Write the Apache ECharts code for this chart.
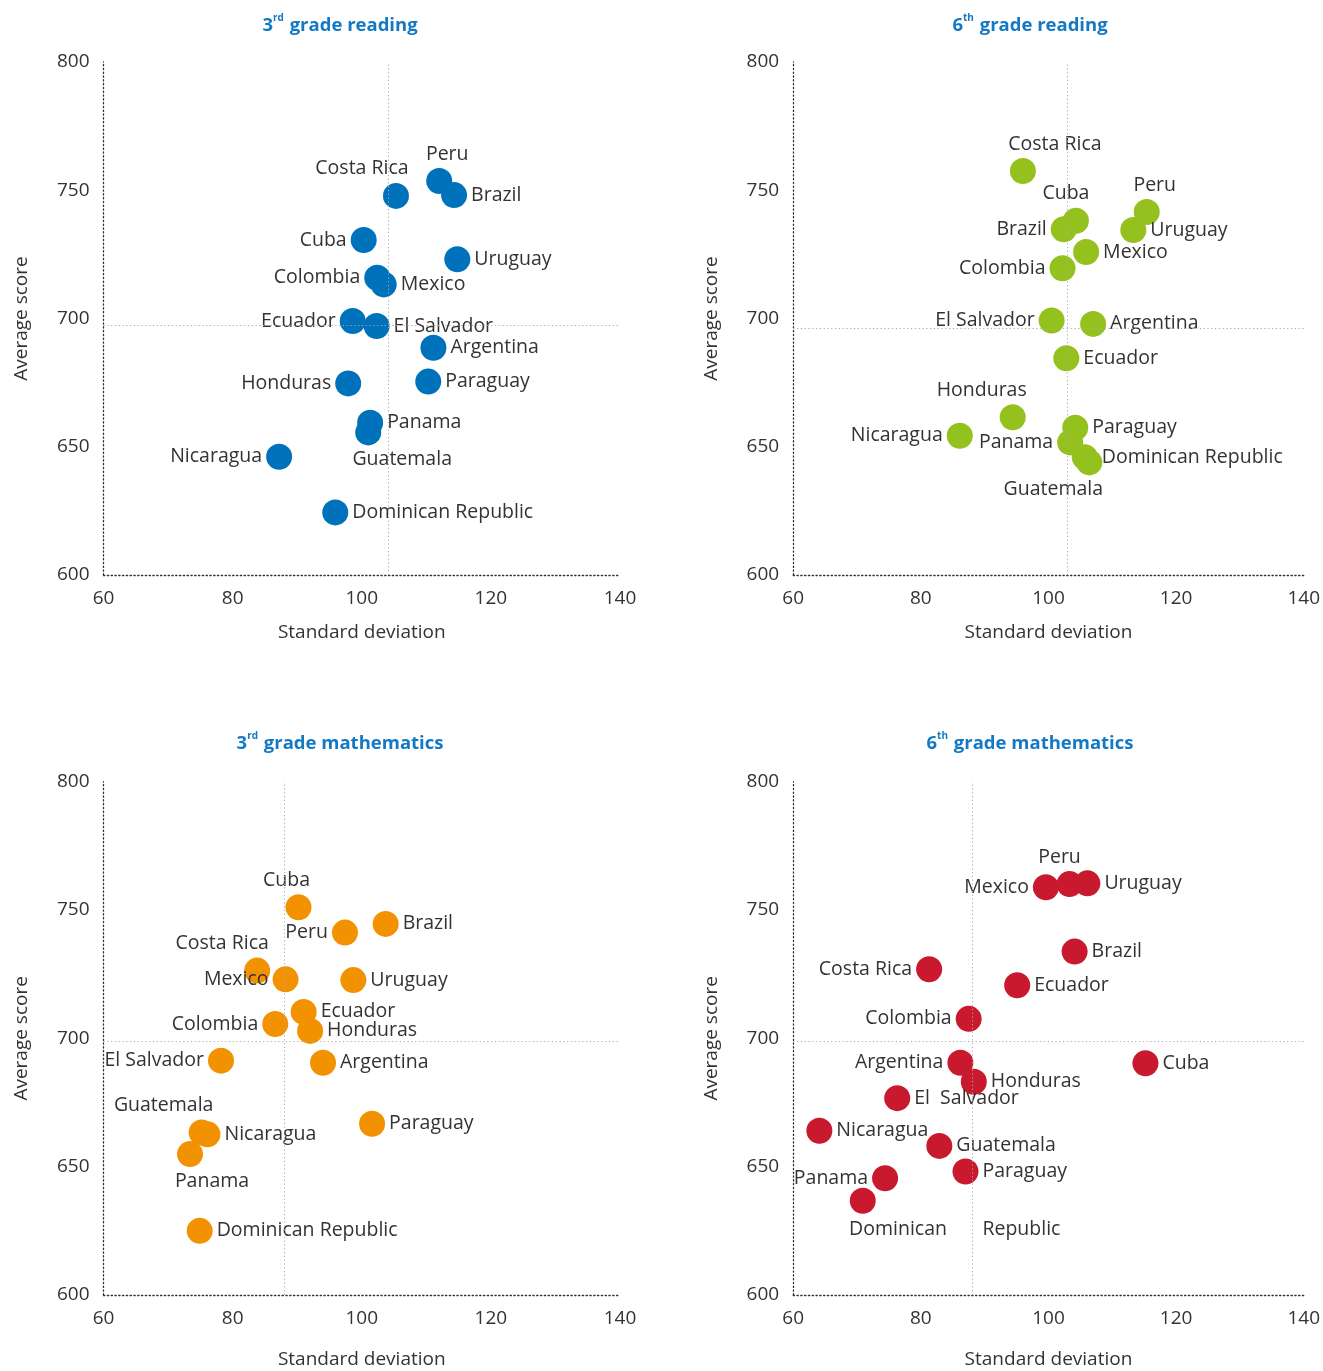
<!DOCTYPE html>
<html>
<head>
<meta charset="utf-8">
<script src="https://cdn.jsdelivr.net/npm/echarts@6/dist/echarts.min.js"></script>
<style>
html,body{margin:0;padding:0;background:#fff;}
#chart{width:1323px;height:1371px;}
</style>
</head>
<body>
<div id="chart"></div>
<script>
// ---------- DATA ----------
const xTicks = [60, 80, 100, 120, 140];
const yTicks = [600, 650, 700, 750, 800];

const r3Countries = ['Peru','Costa Rica','Brazil','Cuba','Uruguay','Colombia','Mexico','Ecuador','El Salvador','Argentina','Honduras','Paraguay','Panama','Guatemala','Nicaragua','Dominican Republic'];
const r3SD        = [112.0, 105.3, 114.3, 100.3, 114.8, 102.4, 103.4, 98.6, 102.3, 111.1, 97.9, 110.3, 101.3, 101.0, 87.2, 95.9];
const r3Score     = [753.6, 747.8, 748.1, 730.6, 723.1, 715.9, 713.3, 699.0, 697.1, 688.6, 674.7, 675.4, 659.4, 655.6, 646.1, 624.4];

const r6Countries = ['Costa Rica','Cuba','Brazil','Peru','Uruguay','Mexico','Colombia','El Salvador','Argentina','Ecuador','Honduras','Nicaragua','Paraguay','Panama','Dominican Republic','Guatemala'];
const r6SD        = [96.0, 104.3, 102.4, 115.4, 113.3, 105.9, 102.2, 100.5, 107.0, 102.8, 94.4, 86.1, 104.2, 103.4, 105.7, 106.4];
const r6Score     = [757.5, 738.1, 734.8, 741.5, 734.5, 725.9, 719.6, 699.2, 697.9, 684.5, 661.5, 654.3, 657.4, 651.7, 645.9, 643.9];

const m3Countries = ['Cuba','Brazil','Peru','Costa Rica','Mexico','Uruguay','Ecuador','Colombia','Honduras','El Salvador','Argentina','Paraguay','Guatemala','Nicaragua','Panama','Dominican Republic'];
const m3SD        = [90.2, 103.7, 97.4, 83.8, 88.2, 98.7, 91.0, 86.6, 92.0, 78.2, 94.0, 101.6, 75.2, 76.1, 73.4, 74.9];
const m3Score     = [751.1, 744.6, 741.2, 726.4, 723.0, 722.7, 710.3, 705.6, 702.9, 691.3, 690.5, 666.7, 663.3, 662.6, 654.9, 625.0];

const m6Countries = ['Mexico','Peru','Uruguay','Brazil','Costa Rica','Ecuador','Colombia','Argentina','Cuba','Honduras','El  Salvador','Nicaragua','Guatemala','Paraguay','Panama','Dominican       Republic'];
const m6SD        = [99.6, 103.3, 106.1, 104.1, 81.3, 95.1, 87.5, 86.2, 115.2, 88.3, 76.3, 64.1, 82.9, 87.0, 74.4, 70.9];
const m6Score     = [758.9, 760.1, 760.4, 733.8, 726.9, 720.7, 707.6, 690.5, 690.3, 683.1, 676.7, 664.0, 658.1, 648.1, 645.5, 636.7];

// mean reference lines [sd, score]
const meanR3 = [104.1, 697.2];
const meanR6 = [103.0, 696.2];
const meanM3 = [88.0, 698.7];
const meanM6 = [88.0, 698.7];

// ---------- LABEL PLACEMENT (style) ----------
const placeR3 = {'Peru':['top',[8,0]],'Costa Rica':['top',[-34,0]],'Brazil':['right'],'Cuba':['left'],'Uruguay':['right'],'Colombia':['left'],'Mexico':['right'],'Ecuador':['left'],'El Salvador':['right'],'Argentina':['right'],'Honduras':['left'],'Paraguay':['right'],'Panama':['right'],'Guatemala':['bottom',[34,0]],'Nicaragua':['left'],'Dominican Republic':['right']};
const placeR6 = {'Costa Rica':['top',[32,0]],'Cuba':['top',[-10,0]],'Brazil':['left'],'Peru':['top',[8,0]],'Uruguay':['right'],'Mexico':['right'],'Colombia':['left'],'El Salvador':['left'],'Argentina':['right'],'Ecuador':['right'],'Honduras':['top',[-31,0]],'Nicaragua':['left'],'Paraguay':['right'],'Panama':['left'],'Dominican Republic':['right'],'Guatemala':['bottom',[-36,0]]};
const placeM3 = {'Cuba':['top',[-12,0]],'Brazil':['right'],'Peru':['left'],'Costa Rica':['top',[-35,0]],'Mexico':['left'],'Uruguay':['right'],'Ecuador':['right'],'Colombia':['left'],'Honduras':['right'],'El Salvador':['left'],'Argentina':['right'],'Paraguay':['right'],'Guatemala':['top',[-38,0]],'Nicaragua':['right'],'Panama':['bottom',[22,0]],'Dominican Republic':['right']};
const placeM6 = {'Mexico':['left'],'Peru':['top',[-10,0]],'Uruguay':['right'],'Brazil':['right'],'Costa Rica':['left'],'Ecuador':['right'],'Colombia':['left'],'Argentina':['left'],'Cuba':['right'],'Honduras':['right'],'El  Salvador':['right'],'Nicaragua':['right'],'Guatemala':['right'],'Paraguay':['right'],'Panama':['left'],'Dominican       Republic':['bottom',[92,2]]};

const FONT = "'Open Sans', 'Liberation Sans', sans-serif";
const panels = [
  {title:['3','rd',' grade reading'], names:r3Countries, sd:r3SD, score:r3Score, mean:meanR3, place:placeR3, color:'#0072bc',
   grid:{left:103.5, top:62, width:516.5, height:513}, titlePos:[340,13], nameGap:48},
  {title:['6','th',' grade reading'], names:r6Countries, sd:r6SD, score:r6Score, mean:meanR6, place:placeR6, color:'#95c11f',
   grid:{left:793.2, top:62, width:514, height:513}, titlePos:[1030,13], nameGap:48},
  {title:['3','rd',' grade mathematics'], names:m3Countries, sd:m3SD, score:m3Score, mean:meanM3, place:placeM3, color:'#f39200',
   grid:{left:103.5, top:781.7, width:516.5, height:513.3}, titlePos:[340,731], nameGap:55},
  {title:['6','th',' grade mathematics'], names:m6Countries, sd:m6SD, score:m6Score, mean:meanM6, place:placeM6, color:'#c8192e',
   grid:{left:793.2, top:781.7, width:514, height:513.3}, titlePos:[1030,731], nameGap:55}
];

const grids = [], xAxes = [], yAxes = [], series = [], graphics = [];
panels.forEach((p, i) => {
  grids.push(Object.assign({containLabel:false}, p.grid));
  xAxes.push({
    type:'value', gridIndex:i, min:xTicks[0], max:xTicks[xTicks.length-1], interval:20,
    name:'Standard deviation', nameLocation:'middle', nameGap:p.nameGap,
    nameTextStyle:{fontFamily:FONT, fontSize:19, color:'#333'},
    axisLine:{show:true, onZero:false, lineStyle:{color:'#333', width:1.3, type:[1.3,2.5]}},
    axisTick:{show:false}, splitLine:{show:false},
    axisLabel:{fontFamily:FONT, fontSize:19, color:'#333', margin:14}
  });
  yAxes.push({
    type:'value', gridIndex:i, min:yTicks[0], max:yTicks[yTicks.length-1], interval:50,
    name:'Average score', nameLocation:'middle', nameGap:72, nameRotate:90,
    nameTextStyle:{fontFamily:FONT, fontSize:19, color:'#333'},
    axisLine:{show:true, onZero:false, lineStyle:{color:'#333', width:1.3, type:[1.3,2.5]}},
    axisTick:{show:false}, splitLine:{show:false},
    axisLabel:{fontFamily:FONT, fontSize:19, color:'#333', margin:14}
  });
  const data = p.names.map((n, k) => {
    const pl = p.place[n] || ['right'];
    return {name:n, value:[p.sd[k], p.score[k]],
      label:{position:pl[0], offset:pl[1] || [0,0]}};
  });
  series.push({
    type:'scatter', xAxisIndex:i, yAxisIndex:i, data:data, symbol:'circle', symbolSize:26,
    itemStyle:{color:p.color, opacity:1},
    label:{show:true, formatter:'{b}', fontFamily:FONT, fontSize:19.5, color:'#333', distance:4},
    emphasis:{disabled:true},
    markLine:{
      silent:true, symbol:'none', animation:false,
      label:{show:false},
      lineStyle:{color:'#aaa', width:1, type:[1.2,2.6]},
      data:[{xAxis:p.mean[0]}, {yAxis:p.mean[1]}]
    },
    z:3
  });
  graphics.push({
    type:'text', x:p.titlePos[0], y:p.titlePos[1],
    style:{
      text:'{a|'+p.title[0]+'}{s|'+p.title[1]+'}{a|'+p.title[2]+'}',
      align:'center', verticalAlign:'top',
      rich:{
        a:{fontFamily:FONT, fontSize:18.5, fontWeight:'bold', fill:'#1479c4', verticalAlign:'bottom', lineHeight:22},
        s:{fontFamily:FONT, fontSize:10, fontWeight:'bold', fill:'#1479c4', verticalAlign:'top', lineHeight:22, padding:[0,1,10,0]}
      }
    }
  });
});

const chart = echarts.init(document.getElementById('chart'), null, {renderer:'canvas'});
chart.setOption({
  animation:false,
  backgroundColor:'#fff',
  grid:grids, xAxis:xAxes, yAxis:yAxes, series:series, graphic:graphics
});
</script>
</body>
</html>
